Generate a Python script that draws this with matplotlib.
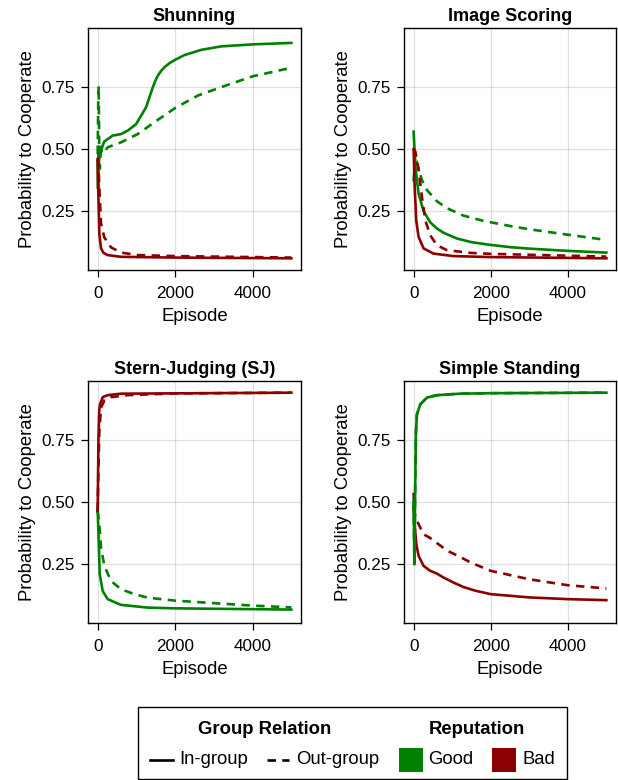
import matplotlib
matplotlib.use("Agg")
import matplotlib.pyplot as plt
from matplotlib.lines import Line2D
from matplotlib.patches import Rectangle

plt.rcParams['font.family'] = ['Liberation Sans', 'DejaVu Sans']

W, H = 618, 780

# ---------------- data ----------------
panel_titles = ["Shunning", "Image Scoring", "Stern-Judging (SJ)", "Simple Standing"]

# Shunning
sh_good_in_x = [0, 10, 20, 30, 45, 60, 86, 120, 170, 259, 388, 603, 776, 991, 1121, 1250, 1336, 1422, 1490, 1552, 1640, 1724, 1850, 2000, 2241, 2672, 3189, 3991, 5000]
sh_good_in_y = [0.45, 0.34, 0.50, 0.44, 0.51, 0.47, 0.49, 0.51, 0.53, 0.54, 0.554, 0.56, 0.574, 0.60, 0.634, 0.668, 0.708, 0.748, 0.775, 0.795, 0.815, 0.829, 0.845, 0.859, 0.878, 0.899, 0.913, 0.921, 0.927]
sh_good_out_x = [0, 15, 26, 40, 55, 70, 86, 120, 180, 259, 603, 1034, 1466, 2000, 2586, 3189, 3991, 5000]
sh_good_out_y = [0.48, 0.70, 0.755, 0.50, 0.42, 0.48, 0.487, 0.50, 0.49, 0.507, 0.527, 0.56, 0.608, 0.665, 0.715, 0.749, 0.792, 0.827]
sh_bad_in_x = [0, 20, 43, 86, 150, 259, 603, 2000, 5000]
sh_bad_in_y = [0.46, 0.30, 0.157, 0.10, 0.082, 0.073, 0.066, 0.063, 0.06]
sh_bad_out_x = [0, 20, 43, 86, 172, 345, 603, 1034, 2000, 5000]
sh_bad_out_y = [0.46, 0.44, 0.345, 0.20, 0.144, 0.104, 0.083, 0.073, 0.069, 0.063]

# Image Scoring
is_good_in_x = [0, 43, 129, 258, 430, 602, 774, 1118, 1500, 2000, 2500, 3000, 4000, 5000]
is_good_in_y = [0.57, 0.43, 0.32, 0.25, 0.205, 0.18, 0.163, 0.14, 0.125, 0.114, 0.105, 0.099, 0.09, 0.083]
is_good_out_x = [0, 20, 43, 80, 129, 215, 344, 602, 860, 1290, 1806, 2500, 3000, 4000, 5000]
is_good_out_y = [0.37, 0.43, 0.47, 0.45, 0.42, 0.375, 0.335, 0.29, 0.262, 0.232, 0.211, 0.19, 0.177, 0.155, 0.134]
is_bad_in_x = [0, 26, 69, 129, 258, 516, 1032, 2000, 5000]
is_bad_in_y = [0.50, 0.35, 0.21, 0.146, 0.10, 0.079, 0.069, 0.065, 0.06]
is_bad_out_x = [0, 43, 129, 215, 301, 430, 602, 860, 1462, 2000, 5000]
is_bad_out_y = [0.50, 0.49, 0.415, 0.308, 0.214, 0.153, 0.113, 0.093, 0.082, 0.078, 0.067]

# Stern-Judging
sj_good_in_x = [0, 26, 52, 129, 258, 602, 1290, 2000, 5000]
sj_good_in_y = [0.464, 0.343, 0.21, 0.142, 0.109, 0.086, 0.075, 0.072, 0.067]
sj_good_out_x = [0, 43, 86, 172, 344, 602, 946, 1290, 2000, 4000, 5000]
sj_good_out_y = [0.464, 0.41, 0.316, 0.243, 0.182, 0.149, 0.129, 0.115, 0.103, 0.083, 0.076]
sj_bad_in_x = [0, 20, 40, 60, 129, 258, 602, 5000]
sj_bad_in_y = [0.464, 0.75, 0.87, 0.893, 0.922, 0.93, 0.936, 0.94]
sj_bad_out_x = [0, 20, 43, 86, 172, 344, 774, 2000, 5000]
sj_bad_out_y = [0.464, 0.65, 0.785, 0.879, 0.909, 0.922, 0.93, 0.937, 0.94]

# Simple Standing
ss_good_in_x = [0, 20, 30, 43, 60, 86, 172, 344, 602, 1204, 2000, 5000]
ss_good_in_y = [0.50, 0.25, 0.40, 0.60, 0.785, 0.853, 0.893, 0.92, 0.93, 0.936, 0.938, 0.94]
ss_good_out_x = [0, 20, 30, 43, 60, 86, 172, 344, 602, 1204, 2000, 5000]
ss_good_out_y = [0.50, 0.25, 0.40, 0.60, 0.785, 0.853, 0.893, 0.92, 0.93, 0.936, 0.938, 0.94]
ss_bad_in_x = [0, 26, 69, 129, 258, 430, 602, 774, 1032, 1290, 1600, 2000, 3000, 4000, 5000]
ss_bad_in_y = [0.477, 0.41, 0.33, 0.283, 0.243, 0.223, 0.212, 0.196, 0.176, 0.158, 0.143, 0.129, 0.116, 0.109, 0.105]
ss_bad_out_x = [0, 10, 86, 258, 430, 602, 860, 1190, 1500, 2000, 3000, 4000, 5000]
ss_bad_out_y = [0.537, 0.464, 0.424, 0.37, 0.355, 0.335, 0.305, 0.28, 0.255, 0.223, 0.189, 0.165, 0.152]

y_ticks = [0.25, 0.50, 0.75]
y_tick_labels = ["0.25", "0.50", "0.75"]
x_ticks = [0, 2000, 4000]
x_tick_labels = ["0", "2000", "4000"]

GOOD = "#008000"
BAD = "#8b0000"

panels = [
    [(sh_good_in_x, sh_good_in_y, GOOD, '-'), (sh_good_out_x, sh_good_out_y, GOOD, '--'),
     (sh_bad_in_x, sh_bad_in_y, BAD, '-'), (sh_bad_out_x, sh_bad_out_y, BAD, '--')],
    [(is_good_in_x, is_good_in_y, GOOD, '-'), (is_good_out_x, is_good_out_y, GOOD, '--'),
     (is_bad_in_x, is_bad_in_y, BAD, '-'), (is_bad_out_x, is_bad_out_y, BAD, '--')],
    [(sj_good_in_x, sj_good_in_y, GOOD, '-'), (sj_good_out_x, sj_good_out_y, GOOD, '--'),
     (sj_bad_in_x, sj_bad_in_y, BAD, '-'), (sj_bad_out_x, sj_bad_out_y, BAD, '--')],
    [(ss_bad_in_x, ss_bad_in_y, BAD, '-'), (ss_bad_out_x, ss_bad_out_y, BAD, '--'),
     (ss_good_out_x, ss_good_out_y, GOOD, '--'), (ss_good_in_x, ss_good_in_y, GOOD, '-')],
]

# ---------------- figure ----------------
fig = plt.figure(figsize=(W / 100, H / 100), dpi=100)

def fx(px):
    return px / W

def fy(py):
    return 1 - py / H

boxes = [(88, 28, 301, 270), (404, 28, 616, 270), (88, 381, 301, 623), (404, 381, 616, 623)]

TICK_FS = 12.3
LABEL_FS = 13.3
TITLE_FS = 13
DASH = (0, (3.2, 2.4))

for i, (l, t, r, b) in enumerate(boxes):
    ax = fig.add_axes([fx(l), fy(b), fx(r) - fx(l), fy(t) - fy(b)])
    for xs, ys, c, ls in panels[i]:
        if ls == '--':
            ax.plot(xs, ys, color=c, lw=1.9, linestyle=DASH, solid_capstyle='butt')
        else:
            ax.plot(xs, ys, color=c, lw=1.9, linestyle='-')
    ax.set_xlim(-250, 5250)
    ax.set_ylim(0.013, 0.987)
    ax.set_xticks(x_ticks, x_tick_labels)
    ax.set_yticks(y_ticks, y_tick_labels)
    ax.tick_params(labelsize=TICK_FS, length=5, width=0.9, pad=4.5, colors='black')
    ax.tick_params(axis='x', pad=6.5)
    ax.grid(True, color='#000000', alpha=0.12, lw=0.9)
    ax.set_axisbelow(True)
    for s in ax.spines.values():
        s.set_linewidth(1.0)
        s.set_color('black')
    ax.set_title(panel_titles[i], fontsize=TITLE_FS, fontweight='bold', pad=5)
    ax.set_xlabel("Episode", fontsize=LABEL_FS, labelpad=5)
    ax.set_ylabel("Probability to Cooperate", fontsize=LABEL_FS, labelpad=4)

# ---------------- legend ----------------
fig.patches.append(Rectangle((fx(138), fy(779)), fx(567) - fx(138), fy(707) - fy(779),
                             transform=fig.transFigure, fill=False, edgecolor='black', lw=1.0))
LEG_FS = 13.3
fig.text(fx(265), fy(729), "Group Relation", ha='center', va='center', fontsize=LEG_FS, fontweight='bold')
fig.text(fx(477), fy(729), "Reputation", ha='center', va='center', fontsize=LEG_FS, fontweight='bold')
row = fy(760)
fig.add_artist(Line2D([fx(150), fx(173)], [row, row], transform=fig.transFigure, color='black', lw=1.9))
fig.text(fx(179), row, "In-group", ha='left', va='center', fontsize=LEG_FS)
fig.add_artist(Line2D([fx(267), fx(289)], [row, row], transform=fig.transFigure, color='black', lw=1.9,
                      linestyle=DASH))
fig.text(fx(296), row, "Out-group", ha='left', va='center', fontsize=LEG_FS)
fig.patches.append(Rectangle((fx(399), fy(772)), fx(423) - fx(399), fy(748) - fy(772),
                             transform=fig.transFigure, facecolor=GOOD, edgecolor='none'))
fig.text(fx(428), row, "Good", ha='left', va='center', fontsize=LEG_FS)
fig.patches.append(Rectangle((fx(492), fy(772)), fx(516) - fx(492), fy(748) - fy(772),
                             transform=fig.transFigure, facecolor=BAD, edgecolor='none'))
fig.text(fx(522), row, "Bad", ha='left', va='center', fontsize=LEG_FS)

fig.savefig("out.png", dpi=100, facecolor='white')
